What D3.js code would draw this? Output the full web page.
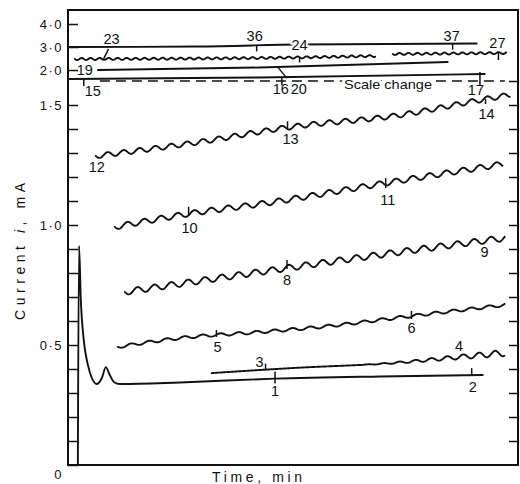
<!DOCTYPE html>
<html>
<head>
<meta charset="utf-8">
<script src="https://cdn.jsdelivr.net/npm/d3@7"></script>
<style>
  body { margin: 0; background: #fff; }
  text { font-family: "Liberation Sans", Arial, sans-serif; fill: #111; }
</style>
</head>
<body>
<div id="chart"></div>
<script>
// ---- data: [time (min), current (mA)] ----
// lower scale traces
const trace_1_2 = [[0, 0], [0.006, 0.913], [0.015, 0.69], [0.030, 0.52], [0.051, 0.417], [0.071, 0.3625],
  [0.096, 0.3375], [0.122, 0.3625], [0.142, 0.408], [0.162, 0.375], [0.183, 0.346], [0.213, 0.3375],
  [0.518, 0.344], [1.0, 0.360], [1.533, 0.369], [2.056, 0.375]];
const trace_3_4 = [[0.680, 0.383], [1.091, 0.404], [1.599, 0.425], [1.939, 0.45], [2.168, 0.467]];
const trace_5_6 = [[0.203, 0.492], [0.518, 0.529], [0.924, 0.554], [1.228, 0.575], [1.695, 0.621], [2.168, 0.667]];
const trace_8_9 = [[0.239, 0.721], [0.924, 0.804], [1.635, 0.8875], [2.168, 0.946]];
const trace_10_11 = [[0.188, 0.992], [0.619, 1.054], [0.924, 1.0875], [1.563, 1.175], [2.157, 1.254]];
const trace_12_14 = [[0.091, 1.2875], [0.619, 1.346], [1.076, 1.408], [1.635, 1.458], [2.071, 1.525], [2.193, 1.542]];
// upper scale traces (after scale change)
const trace_15_17 = [[-0.041, 1.609], [0.924, 1.674], [2.066, 1.826]];
const trace_19_20 = [[0.102, 2.0], [0.924, 2.109], [1.878, 2.348]];
const trace_23_24 = [[-0.015, 2.478], [0.924, 2.522], [1.513, 2.609]];
const trace_27 = [[1.599, 2.696], [2.178, 2.739]];
const trace_36_37 = [[-0.041, 3.0], [0.61, 3.022], [1.127, 3.109], [2.025, 3.152]];

// numbered markers along the traces
const markerNames = ["1", "2", "3", "4", "5", "6", "8", "9", "10", "11", "12", "13", "14",
  "15", "16", "17", "19", "20", "23", "24", "27", "36", "37"];
const markerTrace = ["t12", "t12", "t34", "t34", "t56", "t56", "t89", "t89", "t1011", "t1011", "t1214", "t1214", "t1214",
  "tD", "tD", "tD", "tC", "tC", "tB", "tB", "tB2", "tA", "tA"];
const markerTimes = [1.0, 2.0, 0.954, 1.934, 0.703, 1.695, 1.061, 2.066, 0.563, 1.563, 0.091, 1.066, 2.071,
  0.030, 1.036, 2.041, 0.102, 1.015, 0.132, 1.127, 2.137, 0.909, 1.904];

// axis ticks
const lowTicks = [0, 0.1, 0.2, 0.3, 0.4, 0.5, 0.6, 0.7, 0.8, 0.9, 1.0, 1.1, 1.2, 1.3, 1.4, 1.5];
const lowLabels = [0, 0.5, 1.0, 1.5];
const highTicks = [2.0, 3.0, 4.0];
const rightTicks = [0.1, 0.2, 0.3, 0.4, 0.5, 0.6, 0.7, 0.8, 0.9, 1.0, 1.1, 1.2, 1.3, 1.4, 1.5, 1.6];
const scaleChangeAt = 1.6;
const scaleChangeSpan = [0.112, 2.168];

// ---- styles ----
// pen ripple drawn on top of the traces
const ripple = {
  t34: {amp: 3.2, period: 16, from: 0.5},
  t56: {amp: 1.4, period: 18, from: 0},
  t89: {amp: 3.0, period: 17, from: 0},
  t1011: {amp: 2.7, period: 17, from: 0},
  t1214: {amp: 2.4, period: 16, from: 0},
  tB: {amp: 1.0, period: 9, from: 0},
  tB2: {amp: 1.0, period: 9, from: 0}
};
// tick: [up, down] px, or slash end [dx, dy]; label: [dx, dy]
const markStyle = {
  "1": {tick: [7, 5], label: [0, 17]},
  "2": {tick: [7, 0], label: [1, 17]},
  "3": {tick: [6, 0], label: [-6, -3]},
  "4": {label: [0, -6]},
  "5": {tick: [5, 2], label: [1, 17]},
  "6": {tick: [5, 3], label: [0, 17]},
  "8": {tick: [8, 1], label: [0, 17]},
  "9": {label: [0, 16]},
  "10": {tick: [7, 2], label: [1, 19]},
  "11": {tick: [5, 5], label: [2, 22]},
  "12": {label: [1, 16]},
  "13": {tick: [6, 2], label: [3, 17]},
  "14": {tick: [0, 5], label: [1, 20]},
  "15": {tick: [0, 7], label: [9, 17]},
  "16": {tick: [0, 8], label: [-1, 17]},
  "17": {tick: [2, 12], label: [-4, 21]},
  "19": {label: [-5, 5], anchor: "end"},
  "20": {slash: [9, 11], label: [21, 27]},
  "23": {slash: [5, -10], label: [8, -15]},
  "24": {tick: [0, 5], label: [0, -7], halo: true},
  "27": {tick: [0, 7], label: [-1, -5]},
  "36": {tick: [0, 6], label: [-2, -4]},
  "37": {tick: [0, 6], label: [-1, -3]}
};

const W = 520, H = 484;
const svg = d3.select("#chart").append("svg").attr("width", W).attr("height", H);
svg.append("rect").attr("width", W).attr("height", H).attr("fill", "#fff");

const x = d3.scaleLinear().domain([-0.05, 2.235]).range([68, 518]);
const yLow = d3.scaleLinear().domain([0, 1.6]).range([465, 81]);
const yHigh = d3.scaleLinear().domain([1.5, 4.0]).range([81.5, 24]);

const traces = [
  {id: "t12", data: trace_1_2, y: yLow},
  {id: "t34", data: trace_3_4, y: yLow},
  {id: "t56", data: trace_5_6, y: yLow},
  {id: "t89", data: trace_8_9, y: yLow},
  {id: "t1011", data: trace_10_11, y: yLow},
  {id: "t1214", data: trace_12_14, y: yLow},
  {id: "tD", data: trace_15_17, y: yHigh},
  {id: "tC", data: trace_19_20, y: yHigh},
  {id: "tB", data: trace_23_24, y: yHigh},
  {id: "tB2", data: trace_27, y: yHigh},
  {id: "tA", data: trace_36_37, y: yHigh}
];

const ink = "#111";
const gTr = svg.append("g").attr("fill", "none").attr("stroke", ink)
  .attr("stroke-width", 1.9).attr("stroke-linejoin", "round").attr("stroke-linecap", "round");

const baseLine = d3.line().curve(d3.curveMonotoneX);
const sampled = {};

traces.forEach(tr => {
  const pts = tr.data.map(d => [x(d[0]), tr.y(d[1])]);
  const tmp = svg.append("path").attr("d", baseLine(pts)).attr("fill", "none");
  const node = tmp.node(), L = node.getTotalLength();
  const base = [];
  for (let s = 0; s <= L; s += 0.7) { const q = node.getPointAtLength(s); base.push([q.x, q.y, s]); }
  tmp.remove();
  sampled[tr.id] = base;
  const r = ripple[tr.id];
  if (!r) {
    gTr.append("path").attr("d", baseLine(pts));
  } else {
    const wav = base.map(p => {
      const f = p[2] / L;
      let a = r.amp;
      if (r.from > 0) a = f < r.from ? 0 : r.amp * (f - r.from) / (1 - r.from);
      return [p[0], p[1] + a * Math.sin(2 * Math.PI * p[2] / r.period)];
    });
    gTr.append("path").attr("d", d3.line()(wav));
  }
});

// ---- frame ----
svg.append("rect").attr("x", 68).attr("y", 10).attr("width", 450).attr("height", 455)
  .attr("fill", "none").attr("stroke", ink).attr("stroke-width", 2);

// ---- axes ----
const fmt = v => v === 0 ? "0" : d3.format(".1f")(v).replace(".", "\u00b7");
function styleAxis(g) {
  g.select(".domain").remove();
  g.selectAll(".tick line").attr("stroke", ink).attr("stroke-width", 1.5);
  g.selectAll(".tick text").attr("font-size", 13).attr("letter-spacing", 1.5).attr("fill", ink)
    .attr("font-family", "Liberation Sans, Arial, sans-serif");
}
const gLow = svg.append("g").attr("transform", "translate(68,0)")
  .call(d3.axisLeft(yLow).tickValues(lowTicks).tickSize(-10).tickPadding(5)
    .tickFormat(v => lowLabels.some(l => Math.abs(l - v) < 1e-6) ? fmt(v) : ""))
  .call(styleAxis);
gLow.selectAll(".tick").filter(d => d === 0).select("text").attr("x", -5).attr("dy", "1em");

svg.append("g").attr("transform", "translate(68,0)")
  .call(d3.axisLeft(yHigh).tickValues(highTicks).tickSize(-10).tickPadding(5).tickFormat(fmt))
  .call(styleAxis);

svg.append("g").attr("transform", "translate(518,0)")
  .call(d3.axisRight(yLow).tickValues(rightTicks).tickSize(-9).tickFormat(""))
  .call(styleAxis);

// ---- scale change ----
svg.append("line")
  .attr("x1", x(scaleChangeSpan[0])).attr("x2", x(scaleChangeSpan[1]))
  .attr("y1", yLow(scaleChangeAt)).attr("y2", yLow(scaleChangeAt))
  .attr("stroke", ink).attr("stroke-width", 1.6).attr("stroke-dasharray", "10,6");
svg.append("text").attr("x", 344).attr("y", 89).attr("font-size", 13.5)
  .attr("textLength", 88).attr("lengthAdjust", "spacingAndGlyphs")
  .attr("stroke", "#fff").attr("stroke-width", 6).attr("paint-order", "stroke")
  .text("Scale change");

// ---- markers ----
const gM = svg.append("g");
markerNames.forEach((name, k) => {
  const pts = sampled[markerTrace[k]];
  const px = x(markerTimes[k]);
  const p = pts.reduce((a, b) => Math.abs(b[0] - px) < Math.abs(a[0] - px) ? b : a);
  const st = markStyle[name];
  if (st.tick && (st.tick[0] || st.tick[1])) {
    gM.append("line").attr("x1", p[0]).attr("x2", p[0]).attr("y1", p[1] - st.tick[0]).attr("y2", p[1] + st.tick[1])
      .attr("stroke", ink).attr("stroke-width", 1.5);
  }
  if (st.slash) {
    gM.append("line").attr("x1", p[0]).attr("y1", p[1]).attr("x2", p[0] + st.slash[0]).attr("y2", p[1] + st.slash[1])
      .attr("stroke", ink).attr("stroke-width", 1.4);
  }
  const t = gM.append("text").attr("x", p[0] + st.label[0]).attr("y", p[1] + st.label[1])
    .attr("text-anchor", st.anchor || "middle").attr("font-size", 14.5).text(name);
  if (st.halo) t.attr("stroke", "#fff").attr("stroke-width", 4).attr("paint-order", "stroke");
});

// ---- titles ----
const yt = svg.append("text").attr("transform", "translate(25,320) rotate(-90)")
  .attr("font-size", 14).attr("textLength", 137).attr("lengthAdjust", "spacing");
yt.append("tspan").text("Current ");
yt.append("tspan").attr("font-style", "italic").text("i");
yt.append("tspan").text(", mA");

svg.append("text").attr("x", 212).attr("y", 482).attr("font-size", 14)
  .attr("textLength", 90).attr("lengthAdjust", "spacing").text("Time,  min");
</script>
</body>
</html>
